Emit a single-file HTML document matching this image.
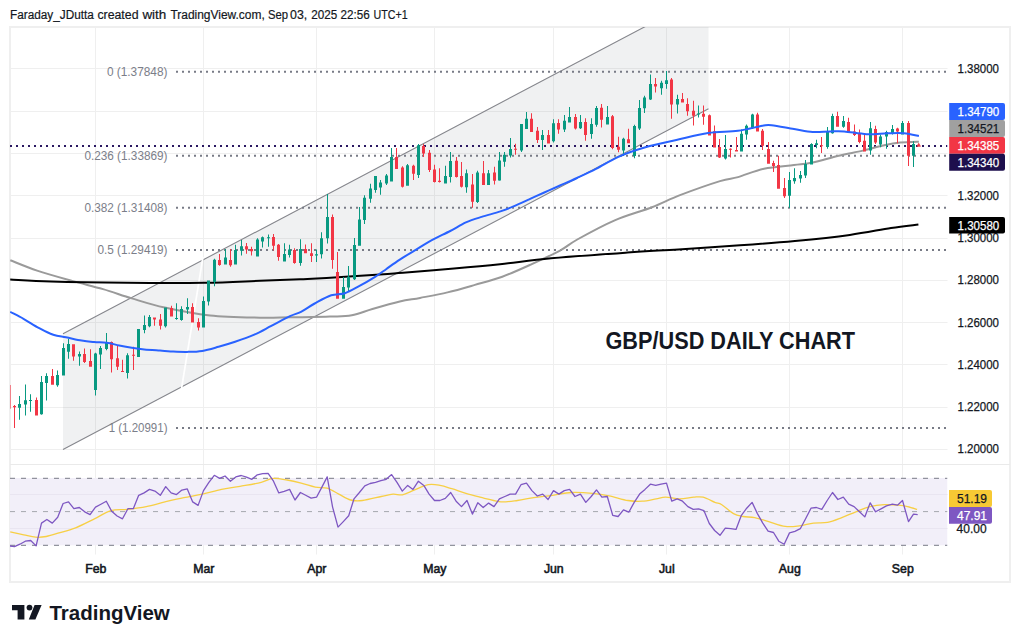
<!DOCTYPE html><html><head><meta charset="utf-8"><style>html,body{margin:0;padding:0;background:#fff;}svg{display:block;}text{font-family:"Liberation Sans",sans-serif;}</style></head><body>
<svg width="1020" height="643" viewBox="0 0 1020 643">
<rect x="0" y="0" width="1020" height="643" fill="#ffffff"/>
<text x="10.0" y="19" font-size="12.5" fill="#131722" stroke="#131722" stroke-width="0.2" textLength="83.9" lengthAdjust="spacingAndGlyphs">Faraday_JDutta</text>
<text x="97.4" y="19" font-size="12.5" fill="#131722" stroke="#131722" stroke-width="0.2" textLength="41.1" lengthAdjust="spacingAndGlyphs">created</text>
<text x="142.4" y="19" font-size="12.5" fill="#131722" stroke="#131722" stroke-width="0.2" textLength="23.9" lengthAdjust="spacingAndGlyphs">with</text>
<text x="170.4" y="19" font-size="12.5" fill="#131722" stroke="#131722" stroke-width="0.2" textLength="94.4" lengthAdjust="spacingAndGlyphs">TradingView.com,</text>
<text x="268.0" y="19" font-size="12.5" fill="#131722" stroke="#131722" stroke-width="0.2" textLength="20.1" lengthAdjust="spacingAndGlyphs">Sep</text>
<text x="290.1" y="19" font-size="12.5" fill="#131722" stroke="#131722" stroke-width="0.2" textLength="17.2" lengthAdjust="spacingAndGlyphs">03,</text>
<text x="311.3" y="19" font-size="12.5" fill="#131722" stroke="#131722" stroke-width="0.2" textLength="26.0" lengthAdjust="spacingAndGlyphs">2025</text>
<text x="340.6" y="19" font-size="12.5" fill="#131722" stroke="#131722" stroke-width="0.2" textLength="29.2" lengthAdjust="spacingAndGlyphs">22:56</text>
<text x="373.5" y="19" font-size="12.5" fill="#131722" stroke="#131722" stroke-width="0.2" textLength="34.1" lengthAdjust="spacingAndGlyphs">UTC+1</text>
<rect x="10" y="27" width="1000" height="555" fill="none" stroke="#efefef" stroke-width="2"/>
<defs><clipPath id="cp"><rect x="10" y="27" width="937.5" height="437"/></clipPath><clipPath id="rp"><rect x="10" y="465" width="937.5" height="89.5"/></clipPath></defs>
<path d="M10 68.5H947.5M10 111.5H947.5M10 153.5H947.5M10 195.5H947.5M10 238.5H947.5M10 280.5H947.5M10 322.5H947.5M10 364.5H947.5M10 407.5H947.5M10 449.5H947.5M10 494.5H947.5M10 528.5H947.5M95.5 27V464M95.5 465V554.5M203.5 27V464M203.5 465V554.5M316.5 27V464M316.5 465V554.5M434.5 27V464M434.5 465V554.5M553.5 27V464M553.5 465V554.5M666.5 27V464M666.5 465V554.5M789.5 27V464M789.5 465V554.5M902.5 27V464M902.5 465V554.5" stroke="#efefef" stroke-width="1" fill="none"/>
<path d="M10 464.5H1010" stroke="#eaeaea" stroke-width="1"/>
<g clip-path="url(#cp)">
<polygon points="63,333.8 646.2,26 708.5,26 708.5,108.8 63,449.5" fill="rgba(120,123,134,0.11)"/>
<path d="M63 333.8L651.2 23.4M63 449.5L708.5 108.8" stroke="#85868c" stroke-width="1.1" fill="none"/>
<path d="M181.6 388.2L203 256.8" stroke="#ffffff" stroke-width="1.7"/>
<path d="M176 71.7H947.5" stroke="#787b86" stroke-width="2" stroke-dasharray="2 4"/>
<text x="167.5" y="76.0" font-size="12.4" fill="#7b7e89" text-anchor="end" textLength="60.6" lengthAdjust="spacingAndGlyphs">0 (1.37848)</text>
<path d="M176 155.8H947.5" stroke="#787b86" stroke-width="2" stroke-dasharray="2 4"/>
<text x="167.5" y="160.1" font-size="12.4" fill="#7b7e89" text-anchor="end" textLength="83.1" lengthAdjust="spacingAndGlyphs">0.236 (1.33869)</text>
<path d="M176 207.8H947.5" stroke="#787b86" stroke-width="2" stroke-dasharray="2 4"/>
<text x="167.5" y="212.1" font-size="12.4" fill="#7b7e89" text-anchor="end" textLength="83.1" lengthAdjust="spacingAndGlyphs">0.382 (1.31408)</text>
<path d="M176 249.9H947.5" stroke="#787b86" stroke-width="2" stroke-dasharray="2 4"/>
<text x="167.5" y="254.2" font-size="12.4" fill="#7b7e89" text-anchor="end" textLength="70.1" lengthAdjust="spacingAndGlyphs">0.5 (1.29419)</text>
<path d="M176 428.1H947.5" stroke="#787b86" stroke-width="2" stroke-dasharray="2 4"/>
<text x="167.5" y="432.4" font-size="12.4" fill="#7b7e89" text-anchor="end" textLength="58.8" lengthAdjust="spacingAndGlyphs">1 (1.20991)</text>
<path d="M10 146H947.5" stroke="#2a1862" stroke-width="2" stroke-dasharray="2 4"/>
<path d="M10.3 260.3C14.8 262.0 26.8 267.2 37.1 270.6C47.4 274.0 61.1 277.8 72.1 280.9C83.1 284.0 93.0 286.2 103.0 289.1C113.0 292.0 121.5 295.3 131.8 298.4C142.1 301.5 151.7 304.8 164.7 307.6C177.7 310.5 194.1 313.8 210.0 315.5C225.9 317.2 246.7 317.4 260.0 317.7C273.3 318.0 278.3 317.5 290.0 317.3C301.7 317.1 319.7 317.0 330.0 316.6C340.3 316.2 344.7 316.5 351.8 315.2C358.9 313.9 364.4 311.3 372.4 309.0C380.4 306.7 391.9 303.4 399.8 301.5C407.7 299.6 412.1 299.4 420.0 297.9C427.9 296.4 438.4 294.6 447.5 292.4C456.6 290.2 465.8 287.5 474.9 284.9C484.0 282.3 493.2 280.0 502.3 276.7C511.4 273.4 520.2 269.4 529.8 265.0C539.4 260.6 552.1 254.8 560.0 250.6C567.9 246.3 568.2 244.6 577.3 239.5C586.4 234.4 602.2 225.7 614.7 220.3C627.2 214.9 641.1 211.4 652.0 207.2C662.9 203.0 668.7 199.4 680.0 195.1C691.3 190.8 710.3 184.1 720.0 181.1C729.7 178.1 730.7 179.2 738.0 177.1C745.3 175.0 754.7 170.7 764.0 168.7C773.3 166.7 785.9 166.0 794.0 165.0C802.1 164.0 805.1 164.2 812.6 162.6C820.1 161.0 830.3 157.7 838.7 155.7C847.1 153.7 855.1 152.4 862.9 150.6C870.7 148.8 879.1 146.3 885.3 145.0C891.5 143.7 894.7 143.2 900.3 142.6C905.9 142.0 915.8 141.8 918.9 141.7" stroke="#9a9a9a" stroke-width="2" fill="none" stroke-linejoin="round"/>
<path d="M10.2 279.5C17.0 279.8 31.4 280.9 51.0 281.5C70.5 282.1 102.0 282.6 127.5 282.8C153.0 283.0 181.9 283.1 204.0 282.8C226.1 282.5 244.0 281.4 260.0 280.8C276.0 280.2 288.9 279.7 300.0 279.2C311.1 278.7 313.2 278.7 326.5 277.9C339.8 277.1 367.2 275.5 380.0 274.6C392.8 273.8 390.7 273.8 403.0 272.8C415.3 271.8 437.8 269.9 454.0 268.5C470.2 267.1 483.8 265.9 500.0 264.2C516.2 262.5 529.8 260.2 551.0 258.3C572.2 256.4 606.3 254.0 627.5 252.5C648.7 251.0 659.6 250.6 678.4 249.4C697.1 248.2 720.6 246.7 740.0 245.3C759.4 243.9 776.6 242.6 794.9 240.9C813.2 239.2 833.8 237.1 849.8 234.9C865.8 232.8 879.6 229.7 891.0 228.0C902.4 226.3 913.8 225.1 918.4 224.5" stroke="#000000" stroke-width="2" fill="none" stroke-linejoin="round"/>
<path d="M19 396.0h1V419.8h-1ZM18 404.0h3v3.7h-3ZM25 384.4h1V415.6h-1ZM24 400.3h3v4.1h-3ZM30 394.3h1V411.8h-1ZM29 399.9h3v1.0h-3ZM41 376.0h1V414.8h-1ZM40 382.0h3v32.3h-3ZM46 373.2h1V400.6h-1ZM45 376.0h3v7.0h-3ZM57 370.4h1V386.8h-1ZM56 375.0h3v10.3h-3ZM63 343.3h1V375.6h-1ZM62 348.0h3v27.6h-3ZM68 338.7h1V358.8h-1ZM67 343.9h3v7.8h-3ZM79 351.4h1V365.7h-1ZM78 354.0h3v2.4h-3ZM95 352.7h1V395.6h-1ZM94 353.6h3v36.4h-3ZM100 346.1h1V368.9h-1ZM99 348.0h3v6.5h-3ZM106 333.0h1V350.2h-1ZM105 342.4h3v6.5h-3ZM127 353.3h1V378.5h-1ZM126 355.2h3v17.8h-3ZM138 329.0h1V357.0h-1ZM137 329.0h3v28.0h-3ZM144 315.6h1V333.2h-1ZM143 325.0h3v5.0h-3ZM149 315.0h1V327.2h-1ZM148 317.0h3v9.3h-3ZM165 307.6h1V327.6h-1ZM164 307.6h3v18.7h-3ZM176 303.3h1V319.7h-1ZM175 317.9h3v1.0h-3ZM181 306.3h1V320.7h-1ZM180 309.0h3v11.0h-3ZM187 298.3h1V314.0h-1ZM186 307.0h3v2.5h-3ZM203 296.4h1V327.6h-1ZM202 301.0h3v26.6h-3ZM208 280.6h1V305.5h-1ZM207 280.6h3v20.9h-3ZM214 258.8h1V286.2h-1ZM213 259.7h3v22.4h-3ZM225 248.9h1V264.4h-1ZM224 257.5h3v6.9h-3ZM235 244.8h1V264.4h-1ZM234 250.0h3v14.4h-3ZM241 240.1h1V255.6h-1ZM240 246.3h3v4.5h-3ZM257 238.3h1V256.4h-1ZM256 239.6h3v16.8h-3ZM262 236.4h1V247.6h-1ZM261 237.3h3v4.1h-3ZM268 234.5h1V246.7h-1ZM267 237.3h3v1.0h-3ZM284 243.3h1V261.6h-1ZM283 254.1h3v7.5h-3ZM289 244.8h1V257.5h-1ZM288 249.5h3v5.5h-3ZM300 239.2h1V265.7h-1ZM299 248.9h3v14.1h-3ZM316 249.4h1V262.1h-1ZM315 254.3h3v1.3h-3ZM321 232.3h1V258.4h-1ZM320 238.2h3v16.1h-3ZM327 194.0h1V243.5h-1ZM326 217.0h3v21.2h-3ZM343 277.1h1V298.8h-1ZM342 287.0h3v11.8h-3ZM348 265.9h1V291.7h-1ZM347 276.7h3v10.9h-3ZM354 237.9h1V279.9h-1ZM353 245.0h3v34.2h-3ZM359 207.0h1V245.7h-1ZM358 219.6h3v26.1h-3ZM364 195.3h1V223.9h-1ZM363 197.7h3v22.4h-3ZM370 183.7h1V202.8h-1ZM369 188.4h3v10.3h-3ZM375 176.0h1V192.8h-1ZM374 176.0h3v14.0h-3ZM380 180.1h1V194.7h-1ZM379 182.5h3v5.1h-3ZM386 174.1h1V185.0h-1ZM385 175.6h3v7.9h-3ZM391 148.0h1V181.6h-1ZM390 157.0h3v24.6h-3ZM407 163.9h1V185.7h-1ZM406 165.2h3v20.5h-3ZM418 143.9h1V177.9h-1ZM417 145.2h3v29.9h-3ZM445 165.7h1V183.5h-1ZM444 176.0h3v7.5h-3ZM450 152.1h1V182.5h-1ZM449 161.0h3v15.9h-3ZM466 169.5h1V192.8h-1ZM465 173.2h3v14.0h-3ZM477 170.8h1V203.0h-1ZM476 172.6h3v29.5h-3ZM488 170.0h1V185.0h-1ZM487 173.2h3v11.8h-3ZM499 151.9h1V180.8h-1ZM498 160.6h3v19.8h-3ZM504 151.9h1V166.8h-1ZM503 154.7h3v7.0h-3ZM510 137.9h1V157.5h-1ZM509 149.0h3v6.6h-3ZM521 123.9h1V151.9h-1ZM520 123.9h3v26.6h-3ZM526 112.1h1V128.9h-1ZM525 118.8h3v10.1h-3ZM542 130.0h1V150.0h-1ZM541 135.0h3v5.1h-3ZM553 119.2h1V142.5h-1ZM552 123.3h3v17.9h-3ZM564 115.1h1V131.9h-1ZM563 120.7h3v8.8h-3ZM569 107.1h1V122.6h-1ZM568 117.0h3v5.6h-3ZM580 115.1h1V128.9h-1ZM579 122.0h3v6.2h-3ZM591 118.3h1V138.8h-1ZM590 123.9h3v10.2h-3ZM596 106.1h1V126.7h-1ZM595 108.0h3v16.8h-3ZM607 105.9h1V124.5h-1ZM606 117.0h3v7.4h-3ZM623 137.7h1V156.0h-1ZM622 138.7h3v11.7h-3ZM634 124.7h1V158.2h-1ZM633 126.1h3v29.9h-3ZM639 100.0h1V129.9h-1ZM638 107.9h3v20.5h-3ZM644 95.7h1V113.1h-1ZM643 97.6h3v10.6h-3ZM650 74.6h1V100.0h-1ZM649 84.0h3v15.5h-3ZM661 80.8h1V94.8h-1ZM660 82.7h3v5.6h-3ZM666 70.9h1V88.8h-1ZM665 80.2h3v3.8h-3ZM677 94.8h1V113.5h-1ZM676 98.9h3v5.6h-3ZM698 105.6h1V117.6h-1ZM697 113.5h3v1.0h-3ZM725 135.1h1V159.4h-1ZM724 149.1h3v9.4h-3ZM741 129.5h1V151.4h-1ZM740 133.8h3v17.6h-3ZM746 124.5h1V139.8h-1ZM745 125.8h3v8.8h-3ZM752 113.7h1V129.0h-1ZM751 114.6h3v13.6h-3ZM789 171.9h1V207.9h-1ZM788 179.9h3v15.9h-3ZM794 168.2h1V183.7h-1ZM793 178.0h3v3.2h-3ZM800 171.1h1V182.7h-1ZM799 174.9h3v3.7h-3ZM805 160.0h1V178.0h-1ZM804 164.1h3v11.5h-3ZM811 143.2h1V164.4h-1ZM810 143.9h3v20.5h-3ZM816 139.8h1V148.2h-1ZM815 143.2h3v1.8h-3ZM827 127.1h1V148.8h-1ZM826 131.4h3v15.7h-3ZM832 113.7h1V133.8h-1ZM831 115.9h3v17.4h-3ZM843 115.9h1V127.7h-1ZM842 121.1h3v5.6h-3ZM870 122.1h1V154.7h-1ZM869 128.2h3v22.4h-3ZM880 134.6h1V147.3h-1ZM879 136.4h3v8.1h-3ZM886 130.8h1V148.8h-1ZM885 132.0h3v4.4h-3ZM892 124.9h1V134.6h-1ZM891 129.0h3v4.8h-3ZM902 121.1h1V134.6h-1ZM901 123.0h3v11.6h-3ZM913 141.3h1V166.9h-1ZM912 143.9h3v11.8h-3Z" fill="#089981"/>
<path d="M14 404.9h1V427.9h-1ZM13 405.9h3v1.4h-3ZM36 397.5h1V415.6h-1ZM35 399.9h3v15.7h-3ZM52 368.9h1V384.8h-1ZM51 376.0h3v8.8h-3ZM73 344.3h1V360.7h-1ZM72 344.3h3v12.1h-3ZM84 348.4h1V362.9h-1ZM83 354.0h3v8.0h-3ZM90 349.3h1V366.7h-1ZM89 361.0h3v5.7h-3ZM111 341.5h1V372.6h-1ZM110 342.0h3v17.2h-3ZM117 345.2h1V370.0h-1ZM116 358.3h3v8.4h-3ZM122 359.8h1V372.0h-1ZM121 371.0h3v1.0h-3ZM133 346.8h1V370.0h-1ZM132 354.8h3v1.0h-3ZM154 317.5h1V325.7h-1ZM153 317.5h3v1.9h-3ZM160 314.0h1V329.4h-1ZM159 319.4h3v6.3h-3ZM171 305.7h1V316.4h-1ZM170 308.0h3v8.4h-3ZM192 303.3h1V322.5h-1ZM191 307.0h3v15.5h-3ZM198 318.2h1V330.5h-1ZM197 322.0h3v5.6h-3ZM219 254.1h1V265.7h-1ZM218 260.1h3v4.9h-3ZM230 248.9h1V266.8h-1ZM229 260.1h3v5.2h-3ZM246 242.9h1V253.8h-1ZM245 246.3h3v3.2h-3ZM251 246.7h1V255.6h-1ZM250 248.9h3v2.4h-3ZM273 234.0h1V250.4h-1ZM272 237.0h3v8.7h-3ZM278 243.9h1V260.7h-1ZM277 244.8h3v12.1h-3ZM294 248.2h1V263.8h-1ZM293 250.0h3v13.0h-3ZM305 244.4h1V253.2h-1ZM304 248.9h3v4.3h-3ZM311 243.3h1V262.0h-1ZM310 253.2h3v2.8h-3ZM332 214.5h1V268.7h-1ZM331 217.0h3v42.9h-3ZM337 251.9h1V298.8h-1ZM336 272.1h3v26.7h-3ZM396 148.0h1V168.9h-1ZM395 157.0h3v11.9h-3ZM402 166.3h1V187.6h-1ZM401 167.6h3v19.2h-3ZM413 164.8h1V180.1h-1ZM412 165.7h3v8.1h-3ZM423 143.9h1V157.0h-1ZM422 146.1h3v7.5h-3ZM429 149.9h1V171.9h-1ZM428 152.7h3v17.3h-3ZM434 164.8h1V182.5h-1ZM433 169.5h3v12.5h-3ZM439 168.2h1V182.5h-1ZM438 180.7h3v1.3h-3ZM456 157.0h1V177.5h-1ZM455 160.7h3v16.2h-3ZM461 162.0h1V187.6h-1ZM460 176.0h3v10.8h-3ZM472 174.1h1V207.7h-1ZM471 184.4h3v17.3h-3ZM483 161.0h1V185.0h-1ZM482 173.2h3v11.8h-3ZM494 166.8h1V184.5h-1ZM493 172.4h3v8.4h-3ZM515 143.8h1V154.7h-1ZM514 148.7h3v1.0h-3ZM531 113.2h1V131.9h-1ZM530 118.8h3v13.1h-3ZM537 127.0h1V143.1h-1ZM536 130.8h3v9.3h-3ZM548 130.0h1V143.5h-1ZM547 135.0h3v8.5h-3ZM558 119.2h1V133.8h-1ZM557 122.9h3v6.6h-3ZM575 114.0h1V129.5h-1ZM574 117.0h3v11.5h-3ZM585 118.3h1V140.7h-1ZM584 122.0h3v13.0h-3ZM601 104.0h1V127.5h-1ZM600 107.8h3v12.0h-3ZM612 115.0h1V149.3h-1ZM611 116.3h3v31.7h-3ZM618 136.8h1V152.3h-1ZM617 146.7h3v3.1h-3ZM628 128.8h1V143.3h-1ZM627 139.2h3v4.1h-3ZM655 78.0h1V92.6h-1ZM654 84.0h3v2.4h-3ZM671 78.0h1V118.7h-1ZM670 79.5h3v25.0h-3ZM682 92.9h1V102.6h-1ZM681 98.9h3v3.7h-3ZM687 98.2h1V115.7h-1ZM686 104.1h3v7.1h-3ZM693 100.8h1V125.6h-1ZM692 110.7h3v5.0h-3ZM703 105.6h1V124.7h-1ZM702 113.8h3v3.0h-3ZM709 114.4h1V135.5h-1ZM708 115.3h3v20.2h-3ZM714 125.6h1V147.5h-1ZM713 131.3h3v16.2h-3ZM719 138.9h1V158.1h-1ZM718 146.9h3v10.6h-3ZM730 148.2h1V157.5h-1ZM729 148.8h3v1.0h-3ZM736 137.0h1V151.4h-1ZM735 150.0h3v1.4h-3ZM757 112.7h1V131.4h-1ZM756 114.6h3v16.8h-3ZM762 129.0h1V150.0h-1ZM761 130.8h3v15.0h-3ZM768 142.0h1V163.7h-1ZM767 149.1h3v14.6h-3ZM773 160.7h1V171.9h-1ZM772 163.1h3v2.8h-3ZM778 155.7h1V188.7h-1ZM777 165.0h3v23.7h-3ZM784 178.0h1V198.0h-1ZM783 188.0h3v8.2h-3ZM821 137.0h1V152.9h-1ZM820 145.2h3v1.1h-3ZM837 111.8h1V126.7h-1ZM836 115.9h3v10.8h-3ZM848 117.8h1V132.0h-1ZM847 122.0h3v10.0h-3ZM854 124.5h1V136.0h-1ZM853 131.4h3v3.7h-3ZM859 129.5h1V143.2h-1ZM858 133.3h3v8.7h-3ZM864 134.6h1V151.4h-1ZM863 140.7h3v10.7h-3ZM875 125.8h1V143.9h-1ZM874 129.0h3v13.6h-3ZM897 127.7h1V143.2h-1ZM896 128.6h3v2.8h-3ZM908 121.1h1V165.9h-1ZM907 123.0h3v32.7h-3Z" fill="#f23645"/>
<rect x="10" y="385" width="1" height="23.7" fill="#f23645" opacity="0.6"/>
<path d="M10.2 311.8C12.4 313.0 18.7 316.1 23.5 318.8C28.3 321.5 34.2 325.5 39.2 328.2C44.2 330.9 48.8 333.3 53.3 334.8C57.8 336.3 61.2 336.4 65.9 337.3C70.6 338.2 76.9 339.7 81.6 340.5C86.3 341.3 89.9 341.6 94.1 342.0C98.3 342.4 102.5 342.1 106.7 342.7C110.9 343.3 115.0 344.6 119.2 345.5C123.4 346.4 127.6 347.2 131.8 347.8C136.0 348.4 139.6 348.9 144.3 349.4C149.0 349.8 155.6 350.2 160.0 350.5C164.4 350.8 166.1 351.2 170.6 351.4C175.1 351.6 181.7 352.0 187.0 351.9C192.3 351.8 196.9 351.8 202.2 350.9C207.5 350.0 213.1 348.3 218.6 346.8C224.1 345.3 229.1 343.8 235.1 341.8C241.1 339.8 248.4 337.3 254.3 334.7C260.2 332.1 264.9 329.3 270.8 326.2C276.8 323.1 285.0 318.6 290.0 316.2C295.0 313.8 296.9 313.9 301.0 311.8C305.1 309.7 309.7 306.2 314.7 303.5C319.7 300.8 326.2 297.0 331.2 295.3C336.2 293.6 340.3 294.7 344.9 293.2C349.5 291.7 353.6 289.1 358.6 286.4C363.6 283.7 370.5 279.7 375.1 276.8C379.7 273.9 382.0 272.1 386.1 269.2C390.2 266.3 394.9 262.8 399.8 259.6C404.7 256.4 410.4 253.0 415.7 249.8C421.0 246.6 425.6 243.5 431.4 240.4C437.1 237.3 444.4 234.0 450.2 231.0C455.9 228.0 460.7 224.8 465.9 222.4C471.1 220.1 475.9 218.7 481.6 216.9C487.4 215.1 495.2 213.1 500.4 211.4C505.6 209.7 508.2 208.7 512.9 206.7C517.6 204.7 523.4 202.0 528.6 199.6C533.8 197.2 539.1 194.8 544.3 192.5C549.5 190.2 554.5 187.9 560.0 185.5C565.5 183.1 571.0 180.8 577.0 178.0C583.0 175.2 589.1 172.4 596.0 168.9C602.9 165.4 610.3 160.4 618.4 156.8C626.5 153.2 635.0 150.3 644.6 147.5C654.2 144.7 665.7 142.4 676.3 140.0C686.9 137.6 697.9 134.5 708.2 133.0C718.5 131.5 729.0 132.0 738.0 130.8C747.0 129.6 756.7 126.7 762.3 125.8C767.9 124.9 766.3 124.7 771.6 125.2C776.9 125.7 787.2 127.9 794.0 129.0C800.8 130.1 806.6 131.6 812.6 132.0C818.6 132.4 824.7 131.5 830.0 131.4C835.3 131.3 838.2 130.9 844.3 131.4C850.4 131.9 859.6 133.9 866.7 134.2C873.9 134.5 881.0 133.5 887.2 133.3C893.4 133.2 898.7 132.8 904.0 133.3C909.3 133.8 916.4 135.6 918.9 136.1" stroke="#2962ff" stroke-width="2" fill="none" stroke-linejoin="round"/>
<path d="M917 146.3L918.7 143.3L920.4 146.3Z" fill="#f23645" stroke="#f23645" stroke-width="0.8" stroke-linejoin="round"/>
<text x="605.5" y="348.8" font-size="24.2" font-weight="bold" fill="#131722" textLength="249.5" lengthAdjust="spacingAndGlyphs">GBP/USD DAILY CHART</text>
</g>
<g clip-path="url(#rp)">
<rect x="10" y="478" width="937.5" height="67.3" fill="#f2eff9"/>
<path d="M10 494.5H947.5M10 528.5H947.5" stroke="#e9e5f1" stroke-width="1"/>
<path d="M10 478.3H947.5M10 545.3H947.5" stroke="#787b86" stroke-width="1" stroke-dasharray="5 6"/>
<path d="M10 511.6H947.5" stroke="#a5a7ae" stroke-width="1" stroke-dasharray="5 6"/>
<path d="M10.2 531.8C12.5 532.3 19.6 533.9 23.8 534.8C28.0 535.7 31.9 536.9 35.6 537.2C39.3 537.5 42.3 537.2 46.2 536.5C50.1 535.8 54.2 534.4 59.1 532.9C64.0 531.4 69.7 530.1 75.6 527.8C81.5 525.4 88.5 521.7 94.4 518.8C100.3 515.9 105.4 512.2 110.9 510.6C116.4 509.0 121.5 510.1 127.4 509.4C133.3 508.7 139.9 507.9 146.2 506.6C152.5 505.4 158.7 503.4 165.0 501.9C171.3 500.4 177.5 498.9 183.8 497.6C190.1 496.3 196.3 495.5 202.6 494.1C208.9 492.7 215.3 490.7 221.5 489.4C227.7 488.1 233.4 487.6 240.0 486.4C246.6 485.2 255.7 483.7 261.2 482.4C266.7 481.1 268.7 478.8 273.0 478.4C277.3 478.0 282.4 479.2 287.1 480.0C291.8 480.8 296.5 481.9 301.2 483.1C305.9 484.3 311.0 486.2 315.3 487.1C319.6 488.0 323.2 487.0 327.1 488.2C331.0 489.4 334.9 492.1 338.8 494.1C342.7 496.1 346.7 498.9 350.6 500.0C354.5 501.1 357.3 501.1 362.4 500.5C367.5 499.9 376.1 497.6 381.2 496.5C386.3 495.4 389.5 494.4 393.0 494.1C396.5 493.8 398.9 495.5 402.4 494.8C405.9 494.1 409.8 491.8 414.1 490.1C418.4 488.4 423.9 485.5 428.2 484.7C432.5 483.9 436.1 484.7 440.0 485.4C443.9 486.1 447.5 487.4 451.8 488.7C456.1 490.0 461.2 492.0 465.9 493.4C470.6 494.8 476.5 496.3 480.0 497.2C483.5 498.1 483.3 498.0 486.8 498.8C490.3 499.6 495.8 501.6 500.9 501.9C506.0 502.2 511.9 501.2 517.4 500.5C522.9 499.8 527.9 498.5 533.8 497.6C539.7 496.7 546.3 496.2 552.6 495.3C558.9 494.4 564.8 492.8 571.5 492.5C578.2 492.2 586.3 492.8 592.6 493.4C598.9 493.9 603.2 494.6 609.1 495.8C615.0 497.0 622.5 499.6 628.0 500.5C633.5 501.4 637.4 501.5 642.1 501.2C646.8 500.9 652.3 499.5 656.2 498.8C660.1 498.1 661.7 497.2 665.6 497.2C669.5 497.2 675.0 498.8 679.7 498.8C684.4 498.8 689.9 497.5 693.8 497.2C697.7 496.9 699.7 496.3 703.2 497.2C706.7 498.1 711.9 501.1 715.0 502.4C718.1 503.6 718.7 502.8 721.8 504.7C724.9 506.6 730.0 511.6 733.5 513.6C737.0 515.6 739.4 515.8 742.9 516.5C746.4 517.2 750.4 516.8 754.7 517.6C759.0 518.5 763.7 520.1 768.8 521.6C773.9 523.1 780.2 525.7 785.3 526.4C790.4 527.1 794.7 526.4 799.4 525.9C804.1 525.4 808.8 523.7 813.5 523.1C818.2 522.5 822.9 523.3 827.6 522.4C832.3 521.5 837.1 519.4 841.8 517.6C846.5 515.8 851.2 513.6 855.9 511.8C860.6 510.0 865.3 507.8 870.0 506.6C874.7 505.4 879.4 504.9 884.1 504.7C888.8 504.5 894.3 504.9 898.2 505.2C902.1 505.5 904.5 505.9 907.6 506.6C910.8 507.3 915.5 508.9 917.1 509.4" stroke="#f7cf45" stroke-width="1.3" fill="none" stroke-linejoin="round"/>
<path d="M9.1 545.9L14.5 546.6L19.9 544.2L25.3 541.2L30.7 540.5L36.1 545.9L41.5 523.1L46.9 519.5L52.3 523.1L57.7 517.2L63.1 503.5L68.5 501.9L73.9 508.7L79.3 507.5L84.7 511.8L90.1 514.6L95.5 507.1L100.9 504.2L106.3 501.2L111.7 511.3L117.1 516.0L122.5 518.8L127.9 508.7L133.3 508.7L138.7 495.3L144.1 492.9L149.5 489.4L154.9 491.1L160.3 495.3L165.7 486.6L171.1 492.9L176.5 494.6L181.9 490.1L187.3 488.9L192.7 501.9L198.1 505.4L203.5 490.6L208.9 482.4L214.3 475.3L219.6 478.4L225.0 476.0L230.4 481.2L235.8 476.9L241.2 475.5L246.5 477.2L251.9 479.3L257.3 474.8L262.7 473.6L268.1 473.4L273.5 481.2L278.8 492.9L284.2 491.3L289.6 489.4L295.0 500.0L300.4 492.5L305.7 495.3L311.1 498.1L316.5 497.2L321.9 487.1L327.2 476.9L332.6 507.1L338.0 527.1L343.3 521.6L348.7 515.8L354.0 498.8L359.4 492.5L364.8 485.9L370.1 483.5L375.5 482.4L380.9 480.7L386.2 479.3L391.6 474.6L397.0 482.4L402.3 491.1L407.7 485.4L413.0 489.4L418.4 481.2L423.8 485.4L429.1 494.1L434.5 500.5L439.9 500.5L445.3 498.4L450.7 492.5L456.1 501.2L461.5 506.6L467.0 500.5L472.4 514.1L477.8 502.8L483.2 507.5L488.6 503.1L494.0 506.6L499.4 498.8L504.8 496.5L510.2 494.1L515.6 494.1L521.0 484.7L526.5 483.1L531.9 490.6L537.3 496.0L542.7 494.1L548.1 499.5L553.5 490.6L558.9 494.1L564.3 490.6L569.6 489.4L575.0 496.5L580.4 494.1L585.8 502.4L591.2 496.5L596.5 489.9L601.9 497.2L607.3 496.5L612.7 515.3L618.1 516.5L623.5 509.9L628.8 512.2L634.2 502.4L639.6 494.1L645.0 489.4L650.4 484.2L655.7 485.4L661.1 484.2L666.5 483.1L671.8 501.2L677.2 498.8L682.5 501.2L687.9 506.6L693.2 509.4L698.6 508.9L703.9 510.6L709.3 523.5L714.6 530.5L720.0 535.3L725.3 528.2L730.7 528.7L736.0 529.4L741.4 515.3L746.7 508.2L752.1 502.4L757.4 513.6L762.8 523.1L768.1 531.1L773.5 532.5L778.8 541.2L784.2 544.2L789.5 532.9L794.9 531.3L800.3 528.7L805.6 518.8L811.0 508.2L816.4 507.5L821.8 509.4L827.2 500.5L832.5 492.5L837.9 499.5L843.3 497.2L848.7 504.2L854.1 506.6L859.5 511.8L864.8 516.9L870.2 502.8L875.6 511.8L881.0 508.9L886.4 505.9L892.4 504.2L897.5 505.2L902.5 500.5L908.5 521.6L913.5 514.1L917.7 514.6" stroke="#7e57c2" stroke-width="1.3" fill="none" stroke-linejoin="round"/>
</g>
<text x="957.5" y="72.8" font-size="12" fill="#131722" stroke="#131722" stroke-width="0.25" textLength="41.5" lengthAdjust="spacingAndGlyphs">1.38000</text>
<text x="957.5" y="199.6" font-size="12" fill="#131722" stroke="#131722" stroke-width="0.25" textLength="41.5" lengthAdjust="spacingAndGlyphs">1.32000</text>
<text x="957.5" y="241.9" font-size="12" fill="#131722" stroke="#131722" stroke-width="0.25" textLength="41.5" lengthAdjust="spacingAndGlyphs">1.30000</text>
<text x="957.5" y="284.2" font-size="12" fill="#131722" stroke="#131722" stroke-width="0.25" textLength="41.5" lengthAdjust="spacingAndGlyphs">1.28000</text>
<text x="957.5" y="326.5" font-size="12" fill="#131722" stroke="#131722" stroke-width="0.25" textLength="41.5" lengthAdjust="spacingAndGlyphs">1.26000</text>
<text x="957.5" y="368.7" font-size="12" fill="#131722" stroke="#131722" stroke-width="0.25" textLength="41.5" lengthAdjust="spacingAndGlyphs">1.24000</text>
<text x="957.5" y="411.0" font-size="12" fill="#131722" stroke="#131722" stroke-width="0.25" textLength="41.5" lengthAdjust="spacingAndGlyphs">1.22000</text>
<text x="957.5" y="453.3" font-size="12" fill="#131722" stroke="#131722" stroke-width="0.25" textLength="41.5" lengthAdjust="spacingAndGlyphs">1.20000</text>
<path d="M949.2 103.1H1003a2 2 0 0 1 2 2V117.9a2 2 0 0 1 -2 2H949.2Z" fill="#2962ff"/>
<text x="957.5" y="115.9" font-size="12.6" fill="#ffffff" stroke="#ffffff" stroke-width="0.25" textLength="41.8" lengthAdjust="spacingAndGlyphs">1.34790</text>
<path d="M949.2 119.9H1003a2 2 0 0 1 2 2V135.1a2 2 0 0 1 -2 2H949.2Z" fill="#a0a0a0"/>
<text x="957.5" y="132.9" font-size="12.6" fill="#131722" stroke="#131722" stroke-width="0.25" textLength="41.8" lengthAdjust="spacingAndGlyphs">1.34521</text>
<path d="M949.2 137.1H1003a2 2 0 0 1 2 2V151.8a2 2 0 0 1 -2 2H949.2Z" fill="#f23645"/>
<text x="957.5" y="149.8" font-size="12.6" fill="#ffffff" stroke="#ffffff" stroke-width="0.25" textLength="41.8" lengthAdjust="spacingAndGlyphs">1.34385</text>
<path d="M949.2 153.8H1003a2 2 0 0 1 2 2V168.7a2 2 0 0 1 -2 2H949.2Z" fill="#1e0f4d"/>
<text x="957.5" y="166.7" font-size="12.6" fill="#ffffff" stroke="#ffffff" stroke-width="0.25" textLength="41.8" lengthAdjust="spacingAndGlyphs">1.34340</text>
<path d="M949.2 217H1003a2 2 0 0 1 2 2V231.5a2 2 0 0 1 -2 2H949.2Z" fill="#000000"/>
<text x="957.5" y="229.7" font-size="12.6" fill="#ffffff" stroke="#ffffff" stroke-width="0.25" textLength="41.8" lengthAdjust="spacingAndGlyphs">1.30580</text>
<text x="956.6" y="533.3" font-size="12.3" fill="#131722" stroke="#131722" stroke-width="0.25" textLength="30" lengthAdjust="spacingAndGlyphs">40.00</text>
<path d="M949 490H990a2 2 0 0 1 2 2V504.9a2 2 0 0 1 -2 2H949Z" fill="#f7c934"/>
<text x="957" y="502.8" font-size="12.6" fill="#131722" stroke="#131722" stroke-width="0.25" textLength="30" lengthAdjust="spacingAndGlyphs">51.19</text>
<path d="M949 506.9H990a2 2 0 0 1 2 2V521.8a2 2 0 0 1 -2 2H949Z" fill="#7e57c2"/>
<text x="957" y="519.7" font-size="12.6" fill="#ffffff" stroke="#ffffff" stroke-width="0.25" textLength="30" lengthAdjust="spacingAndGlyphs">47.91</text>
<text x="95.8" y="573" font-size="12.3" fill="#131722" stroke="#131722" stroke-width="0.55" text-anchor="middle">Feb</text>
<text x="203.8" y="573" font-size="12.3" fill="#131722" stroke="#131722" stroke-width="0.55" text-anchor="middle">Mar</text>
<text x="316.8" y="573" font-size="12.3" fill="#131722" stroke="#131722" stroke-width="0.55" text-anchor="middle">Apr</text>
<text x="434.8" y="573" font-size="12.3" fill="#131722" stroke="#131722" stroke-width="0.55" text-anchor="middle">May</text>
<text x="553.8" y="573" font-size="12.3" fill="#131722" stroke="#131722" stroke-width="0.55" text-anchor="middle">Jun</text>
<text x="666.8" y="573" font-size="12.3" fill="#131722" stroke="#131722" stroke-width="0.55" text-anchor="middle">Jul</text>
<text x="789.8" y="573" font-size="12.3" fill="#131722" stroke="#131722" stroke-width="0.55" text-anchor="middle">Aug</text>
<text x="902.8" y="573" font-size="12.3" fill="#131722" stroke="#131722" stroke-width="0.55" text-anchor="middle">Sep</text>
<g fill="#131722">
<path d="M12 605H24.4V619.6H17.6V610.3H12Z"/>
<circle cx="29.5" cy="607.6" r="2.9"/>
<path d="M34.6 605H41.6L35.4 619.6H28.8Z"/>
<text x="49.4" y="619.6" font-size="20" font-weight="bold" textLength="120.4" lengthAdjust="spacingAndGlyphs">TradingView</text>
</g>
</svg></body></html>
